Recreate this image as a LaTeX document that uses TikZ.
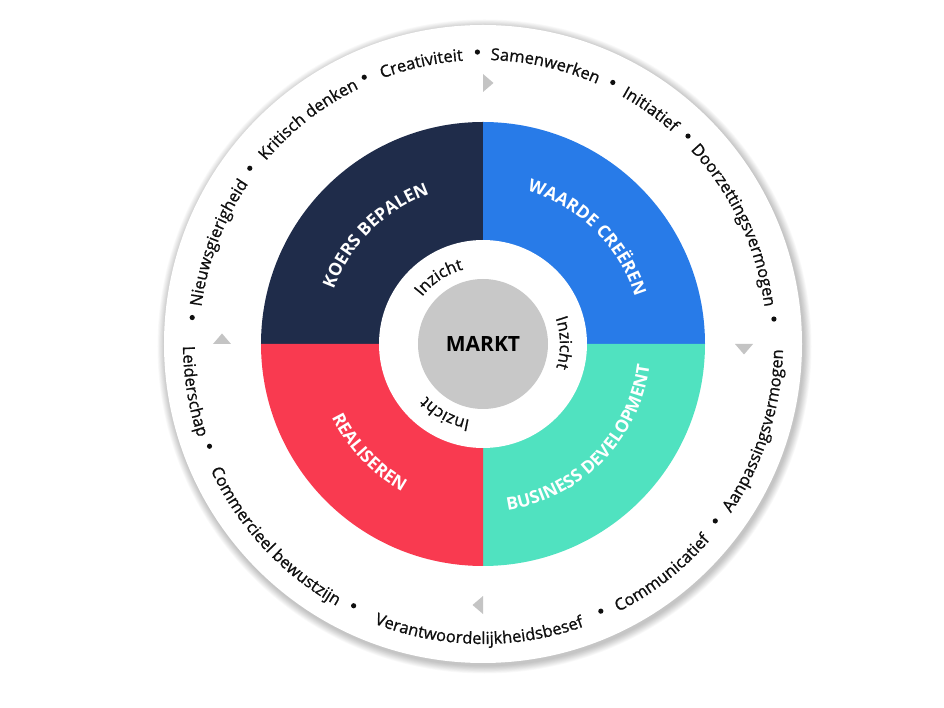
\documentclass[tikz,border=0pt]{standalone}
\usepackage{fontspec}
\setmainfont{Open Sans}
\newfontfamily\semifam[FakeBold=0.9]{Open Sans}
\usetikzlibrary{decorations.text}
\definecolor{navy}{RGB}{31,44,74}
\definecolor{qblue}{RGB}{40,123,232}
\definecolor{qred}{RGB}{249,58,80}
\definecolor{qmint}{RGB}{80,226,192}
\definecolor{mgrey}{RGB}{200,200,200}
\definecolor{tgrey}{RGB}{196,196,196}
\definecolor{ink}{RGB}{15,15,15}
\newcommand\ringfont{\semifam\fontsize{16.5}{20}\selectfont}
\newcommand\labfont{\fontsize{17.5}{20}\selectfont\bfseries}
\newcommand\inzfont{\semifam\fontsize{16.5}{19}\selectfont}
% clockwise arc text (letters point outward)
\newcommand\cwtext[4]{% radius, mid angle, colour, text
  \path[decorate,decoration={text along path,text align=center,text color=#3,text={#4}}]
    ({#2+40}:#1 pt) arc[start angle={#2+40}, end angle={#2-40}, radius=#1 pt];}
% counter-clockwise arc text (letters point inward)
\newcommand\ccwtext[4]{%
  \path[decorate,decoration={text along path,text align=center,text color=#3,text={#4}}]
    ({#2-40}:#1 pt) arc[start angle={#2-40}, end angle={#2+40}, radius=#1 pt];}
\tikzset{
  dot/.style={fill=ink},
  tri/.style={fill=tgrey},
}
\begin{document}
\begin{tikzpicture}[x=1pt,y=1pt]
\fill[white] (-483,-364) rectangle (461,344);
\useasboundingbox (-483,-364) rectangle (461,344);
% soft shadow
\foreach \i in {1,...,10}
  \fill[black,opacity=0.022] (1.5,-2.5) circle[radius={319pt+0.8pt*\i}];
\node[circle,fill=white,minimum size=638pt,inner sep=0pt] (ring) at (0,0) {};
% quadrants
\fill[navy] (0,0) -- (180:222pt) arc[start angle=180,end angle=90,radius=222pt] -- cycle;
\fill[qblue] (0,0) -- (90:222pt) arc[start angle=90,end angle=0,radius=222pt] -- cycle;
\fill[qmint] (0,0) -- (0:222pt) arc[start angle=0,end angle=-90,radius=222pt] -- cycle;
\fill[qred] (0,0) -- (270:222pt) arc[start angle=270,end angle=180,radius=222pt] -- cycle;
\node[circle,fill=white,minimum size=208pt,inner sep=0pt] (inner) at (0,0) {};
\node[circle,fill=mgrey,minimum size=130pt,inner sep=0pt,font=\fontsize{21}{24}\selectfont\bfseries,text=black] (markt) at (0,0) {MARKT};
% direction triangles
\fill[tri] (0,252) -- (0,270) -- (10.5,261) -- cycle;
\fill[tri] (252,0) -- (270,0) -- (261,-10.5) -- cycle;
\fill[tri] (0,-252) -- (0,-270) -- (-10.5,-261) -- cycle;
\fill[tri] (-252,0) -- (-270,0) -- (-261,10.5) -- cycle;
% quadrant labels
\cwtext{159}{134.75}{white}{|\labfont|KOERS BEPALEN}
\cwtext{159}{45.5}{white}{|\labfont|WAARDE CREËREN}
\ccwtext{168}{223.5}{white}{|\labfont|REALISEREN}
\ccwtext{168}{315.5}{white}{|\labfont|BUSINESS DEVELOPMENT}
% inzicht
\cwtext{77}{123.5}{ink}{|\inzfont|Inzicht}
\cwtext{77}{0.8}{ink}{|\inzfont|Inzicht}
\cwtext{77}{241.5}{ink}{|\inzfont|Inzicht}
% outer ring, upper half
\cwtext{284}{159.1}{ink}{|\ringfont|Nieuwsgierigheid}
\cwtext{284}{127.9}{ink}{|\ringfont|Kritisch denken}
\cwtext{284}{102.4}{ink}{|\ringfont|Creativiteit}
\cwtext{284}{77.4}{ink}{|\ringfont|Samenwerken}
\cwtext{284}{54.5}{ink}{|\ringfont|Initiatief}
\cwtext{284}{25.3}{ink}{|\ringfont|Doorzettingsvermogen}
% outer ring, lower half
\ccwtext{300}{189.3}{ink}{|\ringfont|Leiderschap}
\ccwtext{300}{222.8}{ink}{|\ringfont|Commercieel bewustzijn}
\ccwtext{300}{269.2}{ink}{|\ringfont|Verantwoordelijkheidsbesef}
\ccwtext{300}{308}{ink}{|\ringfont|Communicatief}
\ccwtext{300}{342.3}{ink}{|\ringfont|Aanpassingsvermogen}
% bullets
\foreach \a in {174.8,143,114,91.1,63.6,45.4,4.9,200.5,243.7,293.8,322.7}
  \fill[dot] (\a:292pt) circle[radius=2.6pt];
\end{tikzpicture}
\end{document}
